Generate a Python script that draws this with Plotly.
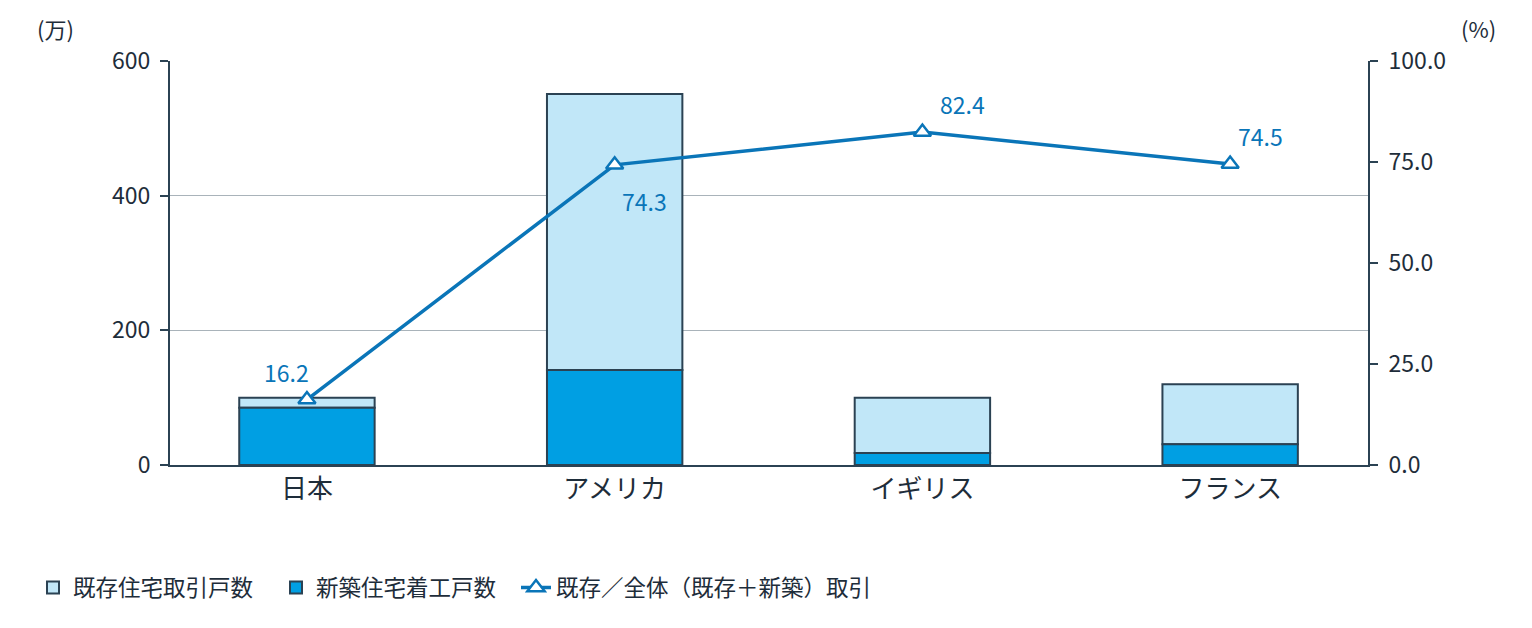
import plotly.graph_objects as go

categories = ["日本", "アメリカ", "イギリス", "フランス"]
new_units = [85, 141, 18, 31]
existing_units = [15, 410, 82, 89]
existing_ratio = [16.2, 74.3, 82.4, 74.5]
left_ticks = [0, 200, 400, 600]
right_ticks = [0, 25, 50, 75, 100]

FONT = "Noto Sans CJK JP"
DARK = "#2b4253"
LINE = "#0a75b8"
TXT = "#1e2d3a"

W, H = 1532, 628
L, R, T, B = 170, 164, 61, 163
PW, PH = W - L - R, H - T - B

def px(x):
    return (x - L) / PW

def py(y):
    return (H - B - y) / PH

fig = go.Figure()
fig.add_trace(go.Bar(
    x=categories, y=existing_units, name="既存住宅取引戸数",
    marker=dict(color="#c1e7f8", line=dict(color=DARK, width=2)),
    width=0.44, base=new_units, legend="legend",
))
fig.add_trace(go.Bar(
    x=categories, y=new_units, name="新築住宅着工戸数",
    marker=dict(color="#009fe3", line=dict(color=DARK, width=2)),
    width=0.44, legend="legend2",
))
fig.add_trace(go.Scatter(
    x=categories, y=existing_ratio, name="既存／全体（既存＋新築）取引",
    yaxis="y2", mode="lines+markers",
    line=dict(color=LINE, width=3.5),
    marker=dict(symbol="triangle-up", size=15, color="white", line=dict(color=LINE, width=2.5)),
    legend="legend3",
))

offsets = [(-20, 28), (30, -36), (40, 28), (30, 28)]
for c, v, (dx, dy) in zip(categories, existing_ratio, offsets):
    fig.add_annotation(x=c, y=v, xref="x", yref="y2", text=f"{v:.1f}", showarrow=False,
                       xshift=dx, yshift=dy, font=dict(family=FONT, size=23, color=LINE))

fig.add_annotation(x=px(55), y=py(28), xref="paper", yref="paper", text="(万)",
                   xanchor="center", yanchor="middle",
                   showarrow=False, font=dict(size=22, color=TXT))
fig.add_annotation(x=px(1478), y=py(28), xref="paper", yref="paper", text="(%)",
                   xanchor="center", yanchor="middle",
                   showarrow=False, font=dict(size=22, color=TXT))

def leg(xpix):
    return dict(orientation="h", xref="container", yref="container", x=xpix / W, y=0.064,
                xanchor="left", yanchor="middle", font=dict(size=22.5, color=TXT),
                itemwidth=30, bgcolor="rgba(0,0,0,0)")

fig.update_layout(
    width=W, height=H,
    margin=dict(l=L, r=R, t=T, b=B),
    plot_bgcolor="white", paper_bgcolor="white",
    barmode="overlay",
    font=dict(family=FONT, size=23, color=TXT),
    showlegend=True,
    legend=leg(33), legend2=leg(276), legend3=leg(516),
    xaxis=dict(range=[-0.445, 3.448], showline=True, linecolor=DARK, linewidth=2,
               ticks="", tickfont=dict(size=26), showgrid=False),
    yaxis=dict(range=[0, 600], tickvals=left_ticks, showline=True, linecolor=DARK, linewidth=2,
               ticks="outside", ticklen=8, tickcolor=DARK, tickwidth=2, ticklabelstandoff=5,
               gridcolor="#a9b3ba", gridwidth=1, zeroline=False),
    yaxis2=dict(range=[0, 100], tickvals=right_ticks, ticktext=[f"{t:.1f}" for t in right_ticks],
                overlaying="y", side="right", showline=True, linecolor=DARK, linewidth=2,
                ticks="outside", ticklen=8, tickcolor=DARK, tickwidth=2, ticklabelstandoff=6,
                showgrid=False, zeroline=False),
)
fig.write_html("out.html")
